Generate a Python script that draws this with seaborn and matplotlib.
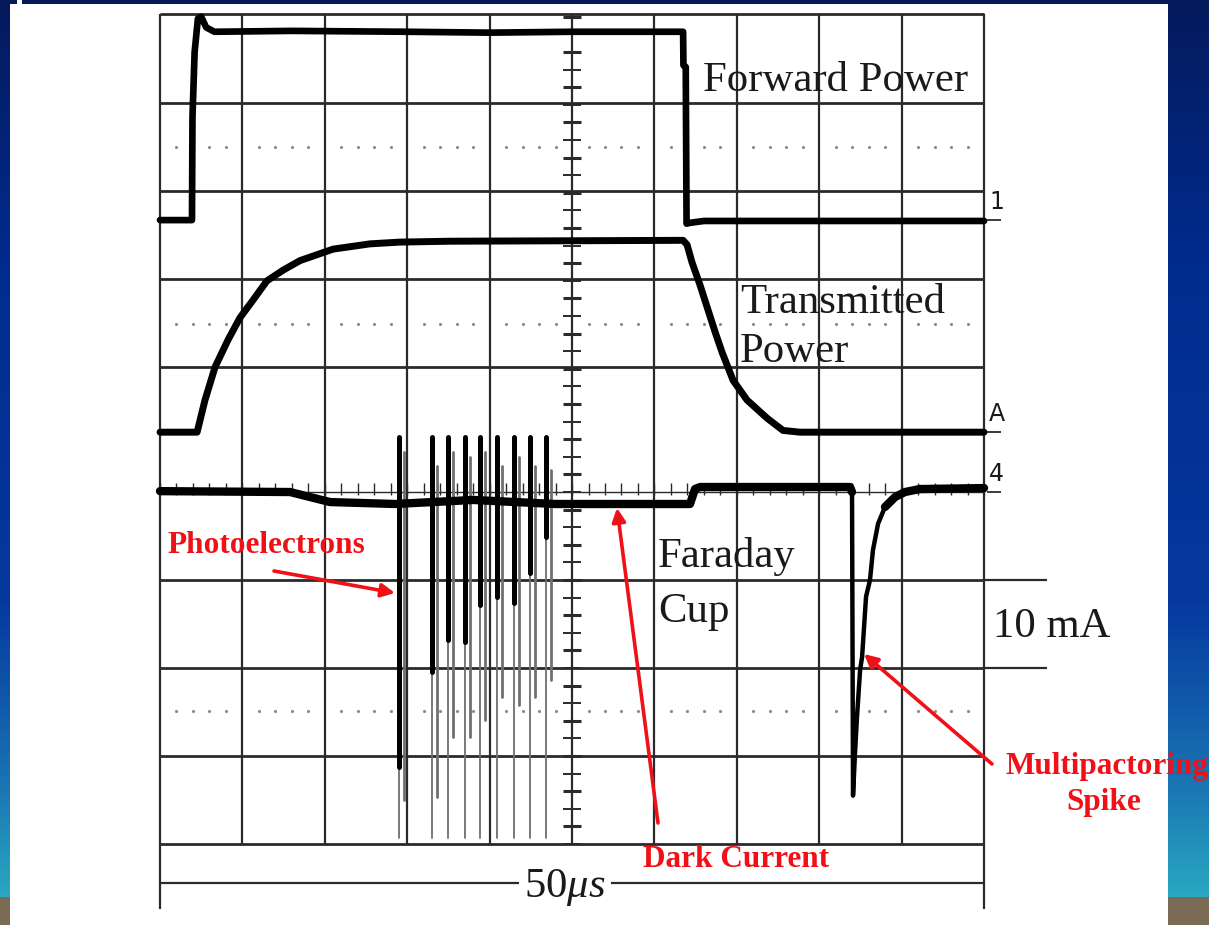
import numpy as np
import pandas as pd
import matplotlib
matplotlib.use("Agg")
import matplotlib.pyplot as plt
import seaborn as sns

# ---------------- data (time in µs, 5 µs/div; amplitude in screen divisions) -------------
fwd_t = [0, 1.94, 1.97, 2.1, 2.3, 2.5, 2.8, 3.3, 8, 15, 20, 25, 31.74, 31.76, 31.9, 31.95, 32.2, 33, 50]
fwd_v = [3.09, 3.09, 4.26, 5.0, 5.38, 5.40, 5.28, 5.23, 5.24, 5.23, 5.22, 5.23, 5.23, 4.85, 4.83, 3.05, 3.06, 3.08, 3.08]

trn_t = [0, 2.25, 2.73, 3.34, 4.13, 4.85, 5.64, 6.49, 7.46, 8.50, 10.50, 12.74, 14.56, 17.6, 31.74,
         31.98, 32.28, 32.77, 33.25, 33.68, 34.1, 34.77, 35.62, 36.83, 37.80, 38.83, 50]
trn_v = [0.68, 0.68, 1.045, 1.42, 1.73, 1.98, 2.18, 2.40, 2.52, 2.63, 2.76, 2.82, 2.84, 2.85, 2.86,
         2.81, 2.61, 2.35, 2.07, 1.82, 1.59, 1.27, 1.045, 0.84, 0.70, 0.68, 0.68]

# Faraday cup: flat baseline and the multipactoring dip
far_t = [0, 7.89, 9.10, 10.32, 14.26, 19.0, 23.97, 32.16, 32.46, 32.77, 41.87, 41.99]
far_v = [0.01, 0.0, -0.057, -0.114, -0.136, -0.09, -0.136, -0.136, 0.034, 0.057, 0.057, 0.0]
dip_t = [41.99, 42.05, 42.17, 42.29, 42.48, 42.6, 42.84, 43.08, 43.26, 43.57, 43.99, 44.6, 45.2, 46.1, 50]
dip_v = [0.0, -3.45, -2.97, -2.56, -2.02, -1.875, -1.19, -1.0, -0.66, -0.36, -0.17, -0.057, 0.0, 0.034, 0.045]

spike_t = [14.50, 16.50, 17.48, 18.50, 19.42, 20.45, 21.48, 22.45, 23.42]
spike_top = [0.625, 0.625, 0.625, 0.625, 0.625, 0.625, 0.625, 0.625, 0.625]
spike_black_bottom = [-3.125, -2.045, -1.68, -1.70, -1.28, -1.19, -1.26, -0.92, -0.51]
spike_grey_bottom = [-3.50, -3.47, -2.78, -2.78, -2.59, -2.33, -2.42, -2.33, -2.14]
spike_tail_bottom = [-3.93, -3.93, -3.93, -3.93, -3.93, -3.93, -3.93, -3.93, -3.93]
spike_echo_top = [0.45, 0.30, 0.45, 0.40, 0.45, 0.30, 0.40, 0.30, 0.25]

H_GRID = [-4, -3, -2, -1, 1.42, 2.42, 3.42, 4.42, 5.43]
V_GRID = [0, 5, 10, 15, 20, 25, 30, 35, 40, 45, 50]
DOT_ROWS = [3.92, 1.91, -2.49]

RED = "#f01018"
INK = "#1a1a1a"

sns.set_theme(style="white")
plt.rcParams["font.family"] = ["Liberation Serif", "DejaVu Serif"]
plt.rcParams["mathtext.fontset"] = "custom"
plt.rcParams["mathtext.rm"] = "Liberation Serif"
plt.rcParams["mathtext.it"] = "Liberation Serif:italic"
plt.rcParams["lines.solid_capstyle"] = "round"

W, H = 1209, 925
fig = plt.figure(figsize=(W / 100, H / 100), dpi=100)

# ---------------- background (slide frame) ----------------
bg = fig.add_axes([0, 0, 1, 1])
img = np.ones((H, W, 3))
ys = np.arange(H)
stops_y = [0, 250, 600, 780, 896]
stops_c = np.array([[0.02, 0.10, 0.36], [0.0, 0.17, 0.55], [0.02, 0.22, 0.62],
                    [0.10, 0.45, 0.70], [0.16, 0.66, 0.76]])
grad = np.stack([np.interp(ys, stops_y, stops_c[:, k]) for k in range(3)], axis=1)
grad[ys >= 897] = [0.48, 0.42, 0.34]
img[:, :10] = grad[:, None, :]
img[:, 1168:] = grad[:, None, :]
img[:4, :] = [0.02, 0.10, 0.36]
img[:5, 17:22] = 1.0
bg.imshow(img, extent=(0, W, H, 0), aspect="auto", interpolation="nearest")
bg.set_xlim(0, W)
bg.set_ylim(H, 0)
bg.axis("off")
P = bg.transData  # pixel coordinates for annotations

# ---------------- scope screen ----------------
ax = fig.add_axes([0, 0, 1, 1])
ax.patch.set_alpha(0)
ax.set_xlim(-9.709, 63.65)
ax.set_ylim(-4.92, 5.591)
ax.axis("off")

# grid
ax.vlines(V_GRID[1:-1], -4, 5.43, color="#2a2a2a", lw=1.6, zorder=1)
ax.vlines([V_GRID[0], V_GRID[-1]], -4.74, 5.43, color="#2a2a2a", lw=1.6, zorder=1)
ax.hlines(H_GRID, 0, 50, color="#2a2a2a", lw=2.0, zorder=1)
ax.hlines([-1, -2], 50, 53.8, color="#2a2a2a", lw=1.6, zorder=1)
ax.hlines([0], 0, 50, color="#2a2a2a", lw=1.0, zorder=1)
ax.hlines([-4.44], 0, 50, color="#2a2a2a", lw=1.6, zorder=1)

# dotted rows
dot_t = [5 * k + j for k in range(10) for j in (1, 2, 3, 4)]
for r in DOT_ROWS:
    ax.scatter(dot_t, [r] * len(dot_t), s=5, color="#8a8a8a", linewidths=0, zorder=1)

# centre graticule ticks
vt = np.arange(-4, 5.43, 0.2)
for i, yv in enumerate(vt):
    ax.hlines(yv, 25 - 0.55, 25 + 0.55, color="#2a2a2a", lw=2.2 if i % 2 else 1.4, zorder=1)
ax.vlines(np.arange(0, 50.1, 1.0), -0.03, 0.1, color="#2a2a2a", lw=1.0, zorder=1)

# traces
sns.lineplot(x=fwd_t, y=fwd_v, ax=ax, color="black", lw=4.8, sort=False, estimator=None, zorder=3)
sns.lineplot(x=trn_t, y=trn_v, ax=ax, color="black", lw=5.0, sort=False, estimator=None, zorder=3)

spk = pd.DataFrame({"t": spike_t, "top": spike_top, "blk": spike_black_bottom,
                    "gry": spike_grey_bottom, "tail": spike_tail_bottom, "echo": spike_echo_top})
spk["id"] = range(len(spk))


def seg(lo, hi, dt=0.0):
    return pd.concat([
        pd.DataFrame({"id": spk["id"], "t": spk["t"] + dt, "v": spk[hi], "o": 0}),
        pd.DataFrame({"id": spk["id"], "t": spk["t"] + dt, "v": spk[lo], "o": 1}),
    ]).sort_values(["id", "o"])


sns.lineplot(data=seg("tail", "top"), x="t", y="v", units="id", estimator=None, sort=False,
             ax=ax, color="#6e6e6e", lw=1.3, zorder=3)
sns.lineplot(data=seg("gry", "echo", 0.3), x="t", y="v", units="id", estimator=None, sort=False,
             ax=ax, color="#707070", lw=2.0, zorder=3)
sns.lineplot(data=seg("blk", "top"), x="t", y="v", units="id", estimator=None, sort=False,
             ax=ax, color="black", lw=3.6, zorder=4)
sns.lineplot(x=far_t, y=far_v, ax=ax, color="black", lw=6.0, sort=False, estimator=None, zorder=4)
sns.lineplot(x=dip_t, y=dip_v, ax=ax, color="black", lw=3.2, sort=False, estimator=None, zorder=4)
sns.lineplot(x=dip_t[10:], y=dip_v[10:], ax=ax, color="black", lw=6.0, sort=False, estimator=None, zorder=4)

# channel markers
for lbl, lvl in (("1", 3.09), ("A", 0.68), ("4", 0.0)):
    ax.text(50.3, lvl + 0.07, lbl, fontsize=17, family=["DejaVu Sans"], color=INK,
            ha="left", va="bottom", zorder=5)
    ax.hlines(lvl, 50.2, 51.0, color=INK, lw=1.2, zorder=5)

# ---------------- labels ----------------
lab = dict(fontsize=30.8, color=INK, transform=P, va="baseline", ha="left", zorder=6)
ax.text(703, 91, "Forward Power", **lab)
ax.text(740, 313, "Transmitted", **lab)
ax.text(740, 362, "Power", **lab)
ax.text(658, 567, "Faraday", **lab)
ax.text(658, 622, "Cup", **lab)
ax.text(993, 637, "10 mA", **lab)
ax.text(565, 897, r"50$\mu s$", fontsize=30.8, color=INK, transform=P, va="baseline", ha="center",
        zorder=6, bbox=dict(boxstyle="square,pad=0.12", fc="white", ec="none"))

red = dict(fontsize=22.5, color=RED, weight="bold", transform=P, va="baseline", zorder=6)
ax.text(167, 553, "Photoelectrons", ha="left", **red)
ax.text(643, 867, "Dark Current", ha="left", **red)
ax.text(1005, 774, "Multipactoring", ha="left", **red)
ax.text(1104, 810, "Spike", ha="center", **red)

arr = dict(arrowstyle="-|>", color=RED, lw=2.6, mutation_scale=20, shrinkA=0, shrinkB=0)
ax.annotate("", xy=(395, 593), xytext=(274, 571), xycoords=P, textcoords=P, arrowprops=arr, zorder=6)
ax.annotate("", xy=(617, 508), xytext=(658, 823), xycoords=P, textcoords=P, arrowprops=arr, zorder=6)
ax.annotate("", xy=(864, 654), xytext=(992, 764), xycoords=P, textcoords=P, arrowprops=arr, zorder=6)

fig.savefig("out.png", dpi=100)
